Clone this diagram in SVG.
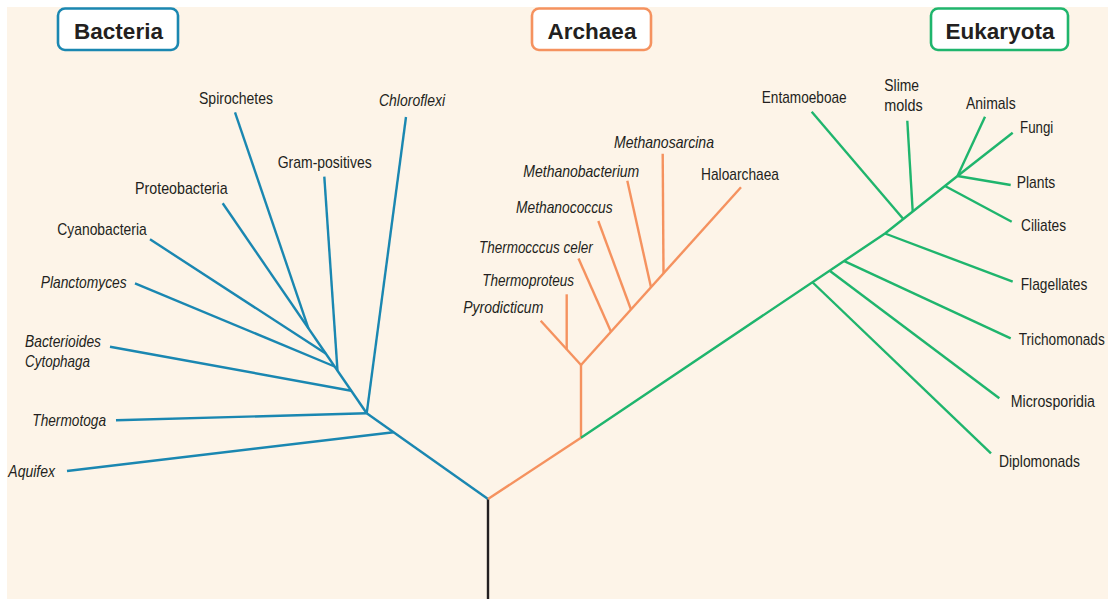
<svg xmlns="http://www.w3.org/2000/svg" width="1108" height="599" viewBox="0 0 1108 599">
<style>
.lbl{font-family:"Liberation Sans Narrow","Liberation Sans",Arial,sans-serif;font-size:17px;fill:#231f20}
.it{font-style:italic}
.hdr{font-family:"Liberation Sans",Arial,sans-serif;font-size:22.5px;font-weight:bold;fill:#231f20;text-anchor:middle}
.box{fill:#ffffff;stroke-width:2.6}
.c{fill:none;stroke-width:2.4;stroke-linecap:butt;stroke-linejoin:round}
.b{stroke:#1a87b1}
.a{stroke:#f5925f}
.e{stroke:#1fb56d}
.k{stroke:#231f20}
</style>
<rect x="7" y="7" width="1101" height="592" fill="#fdf4e8"/>
<g id="connectors">
<path class="c k" d="M488,499 L488,599"/>
<path class="c b" d="M488,499 L366.7,413.3"/>
<path class="c b" d="M366.7,413.3 L222.7,203.3"/>
<path class="c b" d="M366.7,413.3 L406,117"/>
<path class="c b" d="M393.5,432.2 L67,471"/>
<path class="c b" d="M366.7,413.3 L116,420.3"/>
<path class="c b" d="M351.2,390.7 L110,346.7"/>
<path class="c b" d="M337.5,370.7 L324.3,176.7"/>
<path class="c b" d="M334.6,366.5 L135,283.3"/>
<path class="c b" d="M325.7,353.5 L150,239.3"/>
<path class="c b" d="M308.4,328.3 L235,112.3"/>
<path class="c a" d="M488,499 L581,437.7 L581,365"/>
<path class="c a" d="M581,365 L540.7,320.7"/>
<path class="c a" d="M566.7,349.3 L566.7,294.3"/>
<path class="c a" d="M581,365 L741,187.3"/>
<path class="c a" d="M611,331.7 L578.5,258.5"/>
<path class="c a" d="M631,309.5 L598.3,221"/>
<path class="c a" d="M651,287.3 L627.3,180.7"/>
<path class="c a" d="M663.5,273 L662.7,153.7"/>
<path class="c e" d="M581,437.7 L885,233.5 L957.5,176"/>
<path class="c e" d="M812.7,282.5 L991,453.3"/>
<path class="c e" d="M830,271 L999.3,398.3"/>
<path class="c e" d="M844.3,261.2 L1010.7,338.3"/>
<path class="c e" d="M885,233.5 L1012.7,281.7"/>
<path class="c e" d="M903.3,219 L811.7,111.7"/>
<path class="c e" d="M912.7,211.2 L907.3,120.7"/>
<path class="c e" d="M945,186 L1011.7,221.7"/>
<path class="c e" d="M957.5,176 L1010.7,185"/>
<path class="c e" d="M957.5,176 L985,116.7"/>
<path class="c e" d="M957.5,176 L1012.7,132.7"/>
</g>
<g id="hdr-bacteria"><rect class="box" x="58" y="8.5" width="120" height="41.5" rx="7" stroke="#1a87b1"/><text class="hdr" x="118.5" y="39.3">Bacteria</text></g>
<g id="hdr-archaea"><rect class="box" x="532" y="8.5" width="119" height="41.5" rx="7" stroke="#f5925f"/><text class="hdr" x="592" y="39.3">Archaea</text></g>
<g id="hdr-eukaryota"><rect class="box" x="931" y="8.5" width="137" height="41.5" rx="7" stroke="#1fb56d"/><text class="hdr" x="1000" y="39.3">Eukaryota</text></g>
<g id="n-spirochetes"><text class="lbl" x="199" y="104" textLength="74" lengthAdjust="spacingAndGlyphs">Spirochetes</text></g>
<g id="n-chloroflexi"><text class="lbl it" x="379" y="105.5" textLength="66" lengthAdjust="spacingAndGlyphs">Chloroflexi</text></g>
<g id="n-grampositives"><text class="lbl" x="277.7" y="168" textLength="94" lengthAdjust="spacingAndGlyphs">Gram-positives</text></g>
<g id="n-proteobacteria"><text class="lbl" x="135" y="194" textLength="92.7" lengthAdjust="spacingAndGlyphs">Proteobacteria</text></g>
<g id="n-cyanobacteria"><text class="lbl" x="57.3" y="235" textLength="89.4" lengthAdjust="spacingAndGlyphs">Cyanobacteria</text></g>
<g id="n-planctomyces"><text class="lbl it" x="40.7" y="288.3" textLength="86" lengthAdjust="spacingAndGlyphs">Planctomyces</text></g>
<g id="n-bacterioides"><text class="lbl it" x="25" y="346.7" textLength="76" lengthAdjust="spacingAndGlyphs">Bacterioides</text><text class="lbl it" x="25" y="366.5" textLength="65" lengthAdjust="spacingAndGlyphs">Cytophaga</text></g>
<g id="n-thermotoga"><text class="lbl it" x="32.3" y="426" textLength="73.7" lengthAdjust="spacingAndGlyphs">Thermotoga</text></g>
<g id="n-aquifex"><text class="lbl it" x="8.3" y="476.5" textLength="46.7" lengthAdjust="spacingAndGlyphs">Aquifex</text></g>
<g id="n-methanosarcina"><text class="lbl it" x="614" y="147.7" textLength="100" lengthAdjust="spacingAndGlyphs">Methanosarcina</text></g>
<g id="n-methanobacterium"><text class="lbl it" x="523.3" y="176.7" textLength="116" lengthAdjust="spacingAndGlyphs">Methanobacterium</text></g>
<g id="n-haloarchaea"><text class="lbl" x="701" y="180" textLength="78" lengthAdjust="spacingAndGlyphs">Haloarchaea</text></g>
<g id="n-methanococcus"><text class="lbl it" x="516" y="212.7" textLength="96.7" lengthAdjust="spacingAndGlyphs">Methanococcus</text></g>
<g id="n-thermococcus"><text class="lbl it" x="479" y="253.3" textLength="113.7" lengthAdjust="spacingAndGlyphs">Thermocccus celer</text></g>
<g id="n-thermoproteus"><text class="lbl it" x="482.3" y="286" textLength="91.7" lengthAdjust="spacingAndGlyphs">Thermoproteus</text></g>
<g id="n-pyrodicticum"><text class="lbl it" x="463.3" y="313.3" textLength="80" lengthAdjust="spacingAndGlyphs">Pyrodicticum</text></g>
<g id="n-entamoeboae"><text class="lbl" x="761.7" y="103.3" textLength="85" lengthAdjust="spacingAndGlyphs">Entamoeboae</text></g>
<g id="n-slimemolds"><text class="lbl" x="884.3" y="90.7" textLength="34.7" lengthAdjust="spacingAndGlyphs">Slime</text><text class="lbl" x="884.3" y="110.7" textLength="38.4" lengthAdjust="spacingAndGlyphs">molds</text></g>
<g id="n-animals"><text class="lbl" x="966" y="109" textLength="49.7" lengthAdjust="spacingAndGlyphs">Animals</text></g>
<g id="n-fungi"><text class="lbl" x="1020" y="133.3" textLength="33.3" lengthAdjust="spacingAndGlyphs">Fungi</text></g>
<g id="n-plants"><text class="lbl" x="1016.7" y="188.3" textLength="38.6" lengthAdjust="spacingAndGlyphs">Plants</text></g>
<g id="n-ciliates"><text class="lbl" x="1021" y="230.7" textLength="45" lengthAdjust="spacingAndGlyphs">Ciliates</text></g>
<g id="n-flagellates"><text class="lbl" x="1020.7" y="290" textLength="66.6" lengthAdjust="spacingAndGlyphs">Flagellates</text></g>
<g id="n-trichomonads"><text class="lbl" transform="translate(1018.7,345) scale(0.82,1)" x="0" y="0" textLength="105" lengthAdjust="spacingAndGlyphs">Trichomonads</text></g>
<g id="n-microsporidia"><text class="lbl" transform="translate(1010.7,406.7) scale(0.82,1)" x="0" y="0" textLength="102.8" lengthAdjust="spacingAndGlyphs">Microsporidia</text></g>
<g id="n-diplomonads"><text class="lbl" x="999" y="466.7" textLength="81" lengthAdjust="spacingAndGlyphs">Diplomonads</text></g>
</svg>
